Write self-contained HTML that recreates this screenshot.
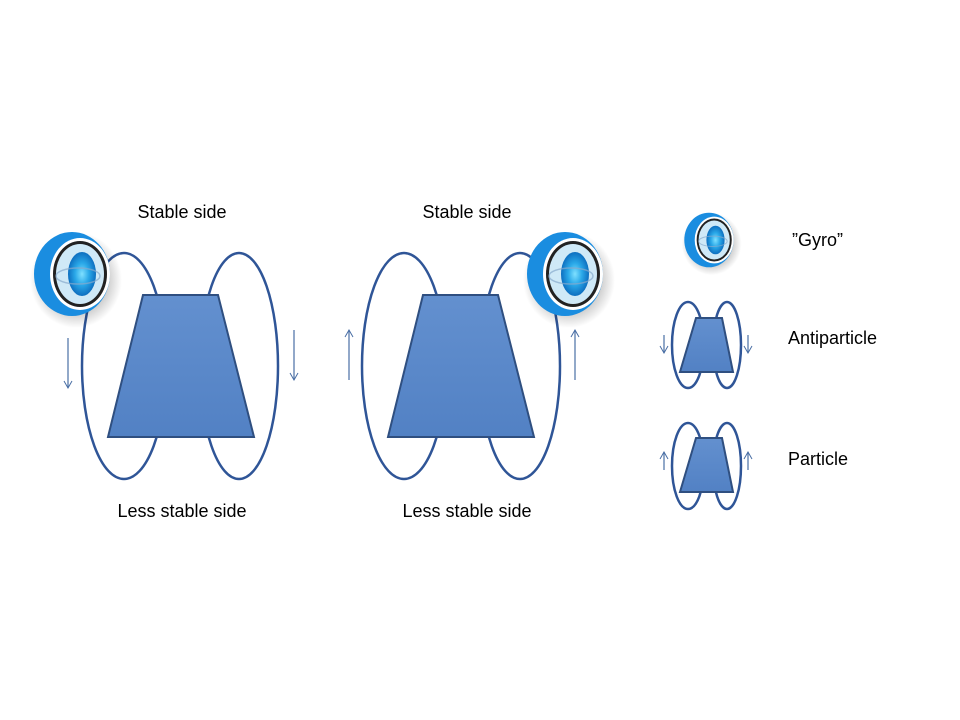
<!DOCTYPE html>
<html><head><style>
body{margin:0;background:#fff;}
svg{display:block;}
text{font-family:"Liberation Sans",sans-serif;font-size:18px;fill:#000;}
</style></head><body>
<svg width="960" height="720" viewBox="0 0 960 720">
<defs>
<marker id="ah" markerWidth="10" markerHeight="10" refX="8" refY="5" orient="auto" markerUnits="userSpaceOnUse">
<path d="M1,1 L8,5 L1,9" fill="none" stroke="#4a6fa5" stroke-width="1"/>
</marker>
<linearGradient id="tg" x1="0" y1="0" x2="0" y2="1">
<stop offset="0" stop-color="#6390cf"/><stop offset="1" stop-color="#5281c4"/>
</linearGradient>
<radialGradient id="gg" cx="0.5" cy="0.5" r="0.5">
<stop offset="0" stop-color="#7fe0ff"/><stop offset="0.5" stop-color="#2aa8e8"/><stop offset="1" stop-color="#0d6fc0"/>
</radialGradient>
<radialGradient id="sh" cx="0.5" cy="0.5" r="0.5">
<stop offset="0.6" stop-color="#000" stop-opacity="0.25"/><stop offset="1" stop-color="#000" stop-opacity="0"/>
</radialGradient>
<g id="gyro">
<ellipse cx="4" cy="6" rx="46" ry="48" fill="url(#sh)"/>
<ellipse cx="0" cy="0" rx="38" ry="42" fill="#1a8de0"/>
<ellipse cx="8" cy="0" rx="30" ry="36" fill="#fff"/>
<ellipse cx="8" cy="0" rx="27" ry="33" fill="#222"/>
<ellipse cx="8" cy="0" rx="24" ry="30" fill="#cfe9f7"/>
<ellipse cx="10" cy="0" rx="14" ry="22" fill="url(#gg)"/>
<ellipse cx="6" cy="2" rx="22" ry="8" fill="none" stroke="#8ac" stroke-width="1.5" opacity="0.7"/>
</g>
</defs>
<g fill="none" stroke="#2f5597" stroke-width="2.5">
<ellipse cx="124" cy="366" rx="42" ry="113"/>
<ellipse cx="239" cy="366" rx="39" ry="113"/>
<ellipse cx="404" cy="366" rx="42" ry="113"/>
<ellipse cx="520" cy="366" rx="40" ry="113"/>
<ellipse cx="688" cy="345" rx="16" ry="43"/>
<ellipse cx="727" cy="345" rx="14" ry="43"/>
<ellipse cx="688" cy="466" rx="16" ry="43"/>
<ellipse cx="727" cy="466" rx="14" ry="43"/>
</g>
<g fill="url(#tg)" stroke="#2f4f80" stroke-width="2">
<polygon points="143,295 218,295 254,437 108,437"/>
<polygon points="423,295 498,295 534,437 388,437"/>
<polygon points="696,318 722,318 733,372 680,372"/>
<polygon points="696,438 722,438 733,492 680,492"/>
</g>
<g stroke="#4a6fa5" stroke-width="1.2" marker-end="url(#ah)">
<line x1="68" y1="338" x2="68" y2="388"/>
<line x1="294" y1="330" x2="294" y2="380"/>
<line x1="349" y1="380" x2="349" y2="330"/>
<line x1="575" y1="380" x2="575" y2="330"/>
<line x1="664" y1="335" x2="664" y2="353"/>
<line x1="748" y1="335" x2="748" y2="353"/>
<line x1="664" y1="470" x2="664" y2="452"/>
<line x1="748" y1="470" x2="748" y2="452"/>
</g>
<use href="#gyro" transform="translate(72,274)"/>
<use href="#gyro" transform="translate(565,274)"/>
<use href="#gyro" transform="translate(709,240) scale(0.65)"/>
<text x="182" y="218" text-anchor="middle">Stable side</text>
<text x="467" y="218" text-anchor="middle">Stable side</text>
<text x="182" y="517" text-anchor="middle">Less stable side</text>
<text x="467" y="517" text-anchor="middle">Less stable side</text>
<text x="792" y="246">”Gyro”</text>
<text x="788" y="344">Antiparticle</text>
<text x="788" y="465">Particle</text>
</svg>
</body></html>
